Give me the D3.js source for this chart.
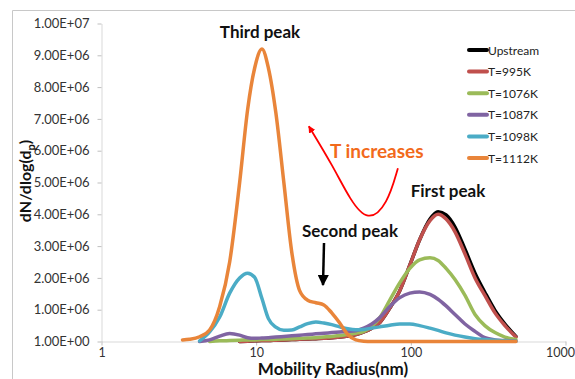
<!DOCTYPE html>
<html><head><meta charset="utf-8">
<script src="https://cdn.jsdelivr.net/npm/d3@7"></script>
<style>
html,body{margin:0;padding:0;background:#fff;}
svg{display:block;font-family:Lato, "Liberation Sans", sans-serif;}
</style></head>
<body>
<svg id="chart" width="575" height="379"></svg>
<script>
// Mobility radius (nm) – shared bins
const diameters = [3.34,3.71,4.31,5.00,5.81,6.74,7.82,8.81,9.78,10.9,12.0,13.4,15.1,17.0,19.1,21.5,24.3,27.4,30.8,34.7,39.1,44.1,49.6,55.9,63.0,73.1,84.9,98.5,114,133,150,169,193,224,260,301,350,406,478];
// dN/dlog(dp) in units of 1e6
const upstream = [null,null,null,null,null,null,0.0,0.01,0.02,0.03,0.03,0.04,0.05,0.06,0.07,0.08,0.09,0.1,0.12,0.14,0.17,0.22,0.3,0.42,0.6,1.05,1.6,2.4,3.2,3.85,4.08,3.98,3.6,2.9,2.15,1.55,0.98,0.55,0.16];
const t995 = [null,null,null,null,null,null,0.0,0.01,0.02,0.03,0.03,0.04,0.05,0.06,0.07,0.08,0.09,0.1,0.12,0.14,0.17,0.22,0.3,0.42,0.6,1.05,1.6,2.4,3.2,3.8,4.0,3.85,3.45,2.75,2.0,1.45,0.9,0.5,0.14];
const t1076 = [null,null,null,0.0,0.02,0.03,0.04,0.05,0.05,0.06,0.06,0.07,0.08,0.09,0.1,0.11,0.12,0.14,0.16,0.19,0.22,0.26,0.32,0.48,0.75,1.3,1.85,2.3,2.57,2.63,2.55,2.3,1.95,1.45,0.85,0.5,0.28,0.14,0.06];
const t1087 = [null,null,0.0,0.05,0.17,0.25,0.2,0.12,0.1,0.11,0.12,0.14,0.16,0.18,0.2,0.22,0.24,0.26,0.28,0.3,0.32,0.34,0.42,0.55,0.75,1.1,1.38,1.52,1.56,1.48,1.33,1.12,0.85,0.55,0.32,0.12,0.05,0.03,0.01];
const t1098 = [null,null,0.02,0.3,0.77,1.52,2.0,2.15,2.02,1.35,0.72,0.45,0.35,0.36,0.46,0.56,0.61,0.58,0.53,0.46,0.40,0.37,0.38,0.42,0.46,0.51,0.55,0.55,0.5,0.42,0.35,0.27,0.2,0.14,0.09,0.06,0.04,0.02,0.01];
const t1112 = [0.05,0.07,0.15,0.36,1.1,2.5,5.0,7.3,8.6,9.2,8.6,7.2,5.0,2.8,1.6,1.3,1.22,1.15,0.9,0.58,0.22,0.05,0.01,0,0,0,0,0,0,0,0,0,0,0,0,0,0,0,0];

const seriesNames = ["Upstream","T=995K","T=1076K","T=1087K","T=1098K","T=1112K"];
const seriesColors = ["#000000","#c0504d","#9bbb59","#8064a2","#4bacc6","#e9853a"];
const seriesValues = [upstream,t995,t1076,t1087,t1098,t1112];

const yTickValues = [0,1,2,3,4,5,6,7,8,9,10];
const yTickLabels = ["1.00E+00","1.00E+06","2.00E+06","3.00E+06","4.00E+06","5.00E+06","6.00E+06","7.00E+06","8.00E+06","9.00E+06","1.00E+07"];
const xTickValues = [1,10,100,1000];
const xTickLabels = ["1","10","100","1000"];

// annotation arrow path (data space)
const trendArrow = [[82.5,5.45],[70.5,4.3],[52.7,3.75],[40.5,4.45],[31.5,5.5],[21.9,6.77]];

const svg = d3.select("#chart");
// outer frame
svg.append("path").attr("d","M12.5,379 V10.5 H575").attr("fill","none").attr("stroke","#c8c8c8").attr("stroke-width",1);

const x = d3.scaleLog().domain([1,1000]).range([101.5,565.5]);
const y = d3.scaleLinear().domain([0,10]).range([341.5,23.5]);

const yAxis = svg.append("g").attr("transform","translate(101.5,0)")
  .call(d3.axisLeft(y).tickValues(yTickValues).tickFormat((d,i)=>yTickLabels[i]).tickSize(4).tickPadding(8).tickSizeOuter(0));
const xAxis = svg.append("g").attr("transform","translate(0,341.5)")
  .call(d3.axisBottom(x).tickValues(xTickValues).tickFormat((d,i)=>xTickLabels[i]).tickSize(4).tickPadding(3).tickSizeOuter(0));
[yAxis,xAxis].forEach(a=>{
  a.select(".domain").attr("stroke","#d9d9d9");
  a.selectAll(".tick line").attr("stroke","#bfbfbf");
  a.selectAll(".tick text").attr("fill","#333").style("font-size","13px").style("font-family","Lato, sans-serif");
});
xAxis.selectAll(".tick text").style("font-size","12.5px");
// keep last x label inside the window
xAxis.selectAll(".tick text").filter(d=>d===1000).attr("text-anchor","end").attr("dx","9");

const line = d3.line().defined(d=>d[1]!==null).x(d=>x(d[0])).y(d=>y(d[1])).curve(d3.curveMonotoneX);
seriesValues.forEach((vals,i)=>{
  const pts = diameters.map((d,j)=>[d,vals[j]]);
  svg.append("path").attr("d",line(pts)).attr("fill","none")
    .attr("stroke",seriesColors[i]).attr("stroke-width",3.5).attr("stroke-linejoin","round").attr("stroke-linecap","round");
});

// legend
const lg = svg.append("g");
seriesNames.forEach((n,i)=>{
  const cy = 50 + i*21.6;
  lg.append("line").attr("x1",469).attr("x2",487).attr("y1",cy).attr("y2",cy)
    .attr("stroke",seriesColors[i]).attr("stroke-width",4).attr("stroke-linecap","round");
  lg.append("text").attr("x",488).attr("y",cy+4.5).text(n).attr("fill","#222").style("font-size","12px");
});

// axis titles
svg.append("text").attr("x",333).attr("y",374.5).attr("text-anchor","middle")
  .style("font-size","17px").style("font-weight","bold").attr("fill","#111").text("Mobility Radius(nm)");
const yt = svg.append("text").attr("transform","translate(31,181) rotate(-90)").attr("text-anchor","middle")
  .style("font-size","16px").style("font-weight","bold").attr("fill","#111");
yt.append("tspan").text("dN/dlog(d");
yt.append("tspan").text("p").attr("dy",4).style("font-size","11px");
yt.append("tspan").text(")").attr("dy",-4);

// annotations
const ann = [["Third peak",260,38],["First peak",448,197],["Second peak",350,237]];
ann.forEach(a=>svg.append("text").attr("x",a[1]).attr("y",a[2]).attr("text-anchor","middle")
  .style("font-size","17px").style("font-weight","bold").attr("fill","#111").text(a[0]));
svg.append("text").attr("x",330).attr("y",158).style("font-size","19px").style("font-weight","bold")
  .attr("fill","#f26a1b").text("T increases");

const defs = svg.append("defs");
defs.append("marker").attr("id","ah").attr("viewBox","0 0 10 10").attr("refX",9).attr("refY",5)
  .attr("markerWidth",4.5).attr("markerHeight",4.5).attr("orient","auto")
  .append("path").attr("d","M0,0 L10,5 L0,10 z").attr("fill","#000");
defs.append("marker").attr("id","ahr").attr("viewBox","0 0 10 10").attr("refX",9).attr("refY",5)
  .attr("markerWidth",4).attr("markerHeight",4).attr("orient","auto")
  .append("path").attr("d","M0,0 L10,5 L0,10 z").attr("fill","#ff0000");

const arrowLine = d3.line().x(d=>x(d[0])).y(d=>y(d[1])).curve(d3.curveBasis);
svg.append("path").attr("d",arrowLine(trendArrow)).attr("fill","none").attr("stroke","#ff0000")
  .attr("stroke-width",1.8).attr("marker-end","url(#ahr)");

svg.append("line").attr("x1",324).attr("y1",243).attr("x2",323).attr("y2",285)
  .attr("stroke","#000").attr("stroke-width",2.5).attr("marker-end","url(#ah)");
</script>
</body></html>
